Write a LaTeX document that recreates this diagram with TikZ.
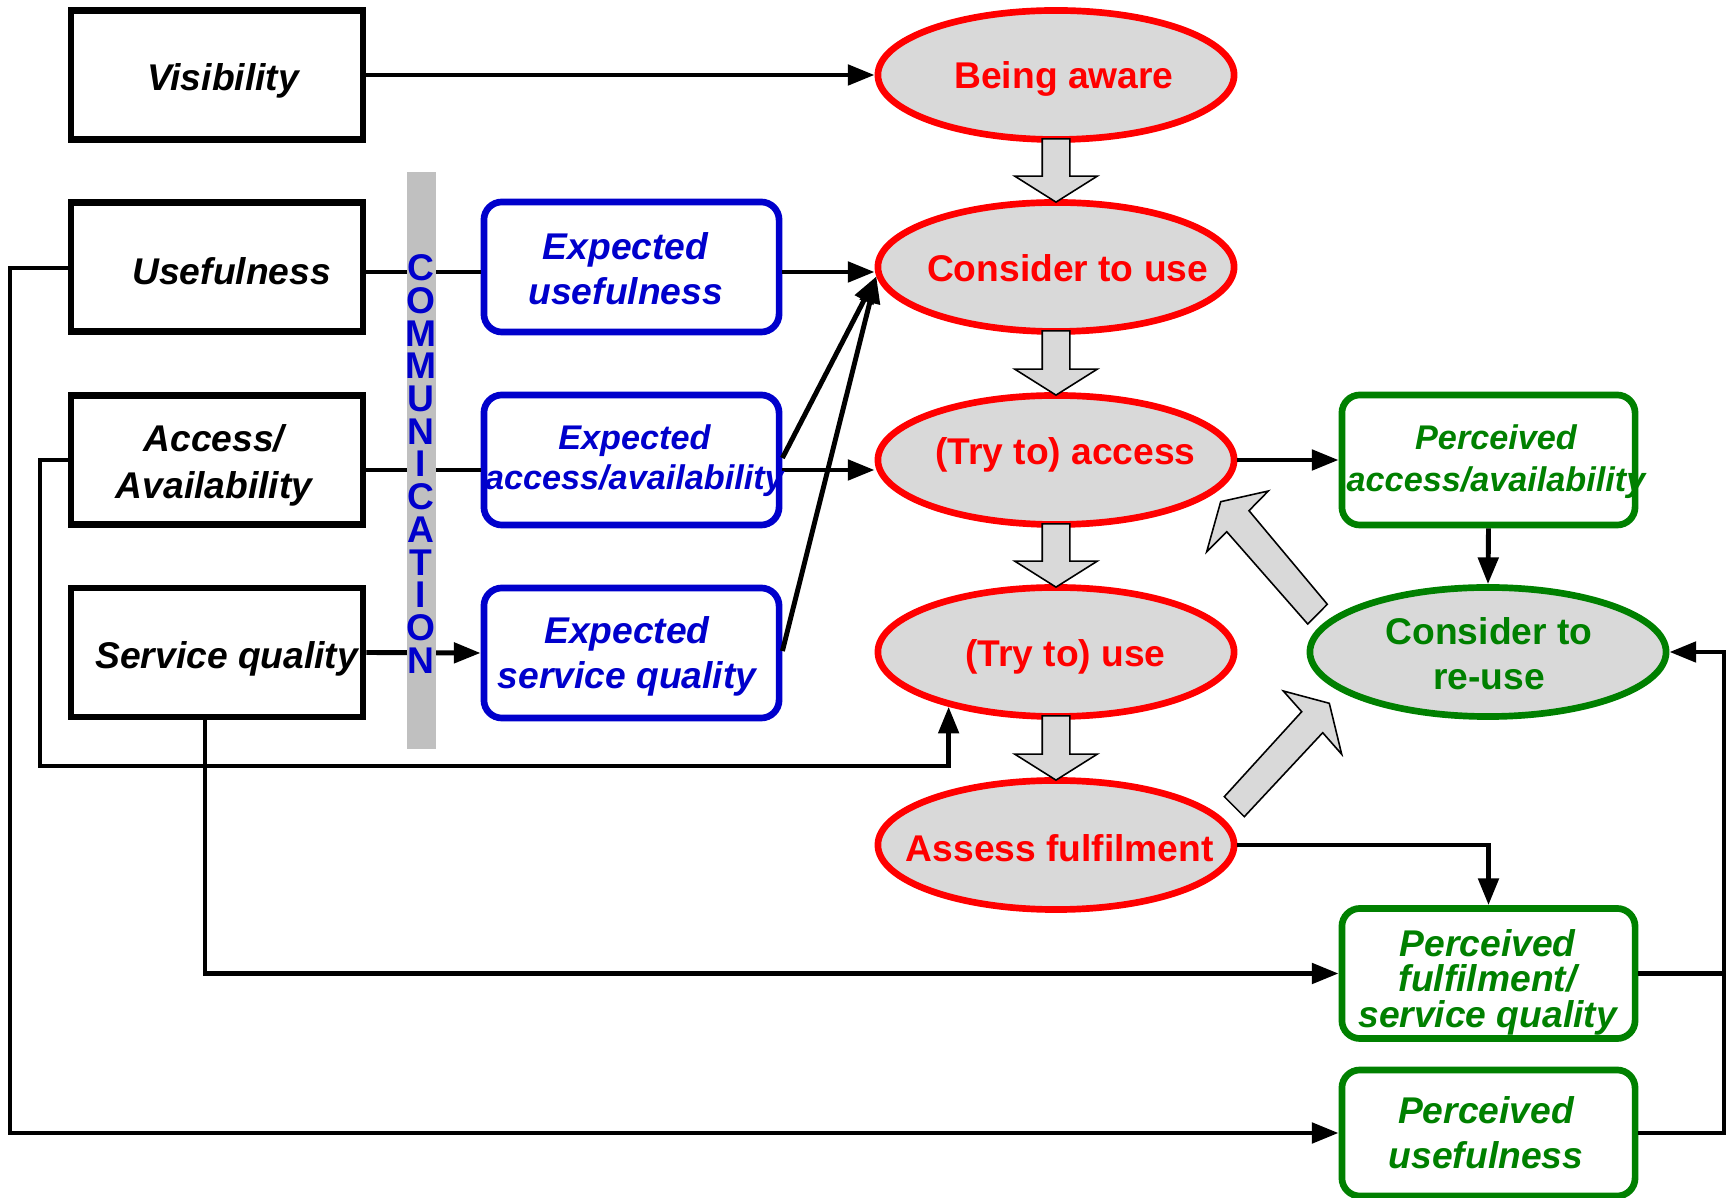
\documentclass[tikz,border=0pt]{standalone}
\usepackage{fontspec}
\setmainfont{Liberation Sans}
\usetikzlibrary{shapes.geometric,arrows.meta,calc}
\definecolor{myred}{RGB}{255,0,0}
\definecolor{myblue}{RGB}{0,0,204}
\definecolor{mygreen}{RGB}{0,128,0}
\definecolor{ellgray}{RGB}{217,217,217}
\definecolor{bargray}{RGB}{192,192,192}
\newcommand\blkdown[2]{%
  \draw[blockarr] ($(#1.south)+(-13.8,-4)$) -- ($(#1.south)+(13.8,-4)$) -- ($(#2.north)+(13.8,-23)$) -- ($(#2.north)+(41.3,-23)$) -- ($(#2.north)+(0,3)$) -- ($(#2.north)+(-41.3,-23)$) -- ($(#2.north)+(-13.8,-23)$) -- cycle;}
\tikzset{
  bb/.style={rectangle, draw=black, line width=1.9pt, fill=white, minimum width=2.92cm, minimum height=1.29cm, inner sep=0},
  blu/.style={rectangle, rounded corners=0.18cm, draw=myblue, line width=1.9pt, fill=white, minimum width=2.95cm, minimum height=1.30cm, inner sep=0},
  grn/.style={rectangle, rounded corners=0.18cm, draw=mygreen, line width=1.9pt, fill=white, minimum width=2.93cm, minimum height=1.30cm, inner sep=0},
  rell/.style={ellipse, draw=myred, fill=ellgray, line width=1.9pt, minimum width=3.56cm, minimum height=1.29cm, inner sep=0},
  gell/.style={rell, draw=mygreen},
  conn/.style={line width=1.4pt, draw=black},
  arr/.style={conn, -{Triangle[length=7.6pt,width=5.7pt]}},
  blockarr/.style={fill=ellgray, draw=black, line width=0.45pt, line join=miter},
  bi/.style={inner sep=0, outer sep=0, align=center, font=\fontsize{10.58}{#1}\selectfont\bfseries\itshape},
  bi/.default=12.8pt,
  bism/.style={inner sep=0, outer sep=0, align=center, font=\fontsize{9.73}{#1}\selectfont\bfseries\itshape},
  bism/.default=11.6pt,
  bu/.style={inner sep=0, outer sep=0, align=center, font=\fontsize{10.58}{#1}\selectfont\bfseries},
  bu/.default=12.9pt
}
\begin{document}
\begin{tikzpicture}[x=0.01cm, y=-0.01cm]
\useasboundingbox (0,0) rectangle (1733,1198);

% left black boxes
\node[bb] (vis) at (217,75) {};
\node[bb] (useful) at (217,267) {};
\node[bb] (acc) at (217,460) {};
\node[bb] (serv) at (217,652.5) {};

% blue boxes
\node[blu] (expu) at (631.5,267) {};
\node[blu] (expa) at (631.5,460) {};
\node[blu] (exps) at (631.5,653) {};

% red ellipses
\node[rell] (aware) at (1056,75) {};
\node[rell] (consider) at (1056,267) {};
\node[rell] (tryacc) at (1056,460) {};
\node[rell] (tryuse) at (1056,652) {};
\node[rell] (assess) at (1056,845) {};

% green
\node[grn] (pa) at (1488.5,460) {};
\node[gell] (reuse) at (1488,652) {};
\node[grn] (pf) at (1488.5,973.5) {};
\node[grn, minimum height=1.26cm] (pu) at (1488.5,1133) {};

% connectors
\draw[arr] (vis.east) -- (aware.west);
\draw[conn] (useful.east |- 0,272) -- (expu.west |- 0,272);
\draw[conn] (acc.east |- 0,470) -- (expa.west |- 0,470);
\draw[arr] (serv.east) -- (exps.west);
\draw[arr] (expu.east |- 0,272) -- (consider.west |- 0,272);
\draw[arr] (expa.east |- 0,470) -- (tryacc.west |- 0,470);
\draw[arr] (expa.east |- 0,458) -- (consider.183);
\draw[arr] (exps.east |- 0,651) -- (consider.183);
\draw[arr] (useful.west |- 0,268) -| (10,1133) -- (pu.west);
\draw[arr] (acc.west) -| (40,766) -| (tryuse.207);
\draw[arr] (serv.south -| 205,0) |- (pf.west);
\draw[arr] (tryacc.east) -- (pa.west);
\draw[arr] (pa.south) -- (reuse.north);
\draw[arr] (assess.east) -| (pf.north);
\draw[arr] (pu.east) -| (1724,652) -- (reuse.east);
\draw[conn] (pf.east) -- (pf.east -| 1724,0);

% communication bar
\fill[bargray] (407,172) rectangle (436,749);
\node[inner sep=0, outer sep=0, align=center, text=myblue, font=\fontsize{10.58}{9.3}\selectfont\bfseries] (comm) at (420.5,464) {C\\O\\M\\M\\U\\N\\I\\C\\A\\T\\I\\O\\N};

% block arrows
\blkdown{aware}{consider}
\blkdown{consider}{tryacc}
\blkdown{tryacc}{tryuse}
\blkdown{tryuse}{assess}
\draw[blockarr] (1307.7,624) -- (1226.7,531.7) -- (1206.7,551.7) -- (1220.7,501.7) -- (1268.3,491) -- (1249,510.7) -- (1327.3,604.3) -- cycle;
\draw[blockarr] (1224.3,796.7) -- (1301.7,711.7) -- (1283.3,691) -- (1329.3,703.3) -- (1341.7,754.3) -- (1322.7,732.7) -- (1244.3,816.7) -- cycle;

% texts
\node[bi] (visT) at (223,81) {Visibility};
\node[bi] (usefulT) at (231.7,271.4) {Usefulness};
\node[bi=13.26pt] (accT) at (214,465.3) {Access/\\Availability};
\node[bi] (servT) at (226.7,658.7) {Service quality};

\node[bi=12.8pt, text=myblue] (expuT) at (625.7,269) {Expected\\usefulness};
\node[bism=11.4pt, text=myblue] (expaT) at (634.4,461) {Expected\\access/availability};
\node[bi=12.8pt, text=myblue] (expsT) at (627,656) {Expected\\service quality};

\node[bu, text=myred] (awareT) at (1064,79) {Being aware};
\node[bu, text=myred] (considerT) at (1067.6,268.4) {Consider to use};
\node[bu, text=myred] (tryaccT) at (1065.4,455.3) {(Try to) access};
\node[bu, text=myred] (tryuseT) at (1065.4,657) {(Try to) use};
\node[bu, text=myred] (assessT) at (1059.8,848.2) {Assess fulfilment};

\node[bism=12pt, text=mygreen] (paT) at (1496,462) {Perceived\\access/availability};
\node[bu=12.9pt, text=mygreen] (reuseT) at (1489,654) {Consider to\\re-use};
\node[bi=10.1pt, text=mygreen] (pfT) at (1487.6,982.2) {Perceived\\fulfilment/\\service quality};
\node[bi=12.9pt, text=mygreen] (puT) at (1486,1133) {Perceived\\usefulness};
\end{tikzpicture}
\end{document}
